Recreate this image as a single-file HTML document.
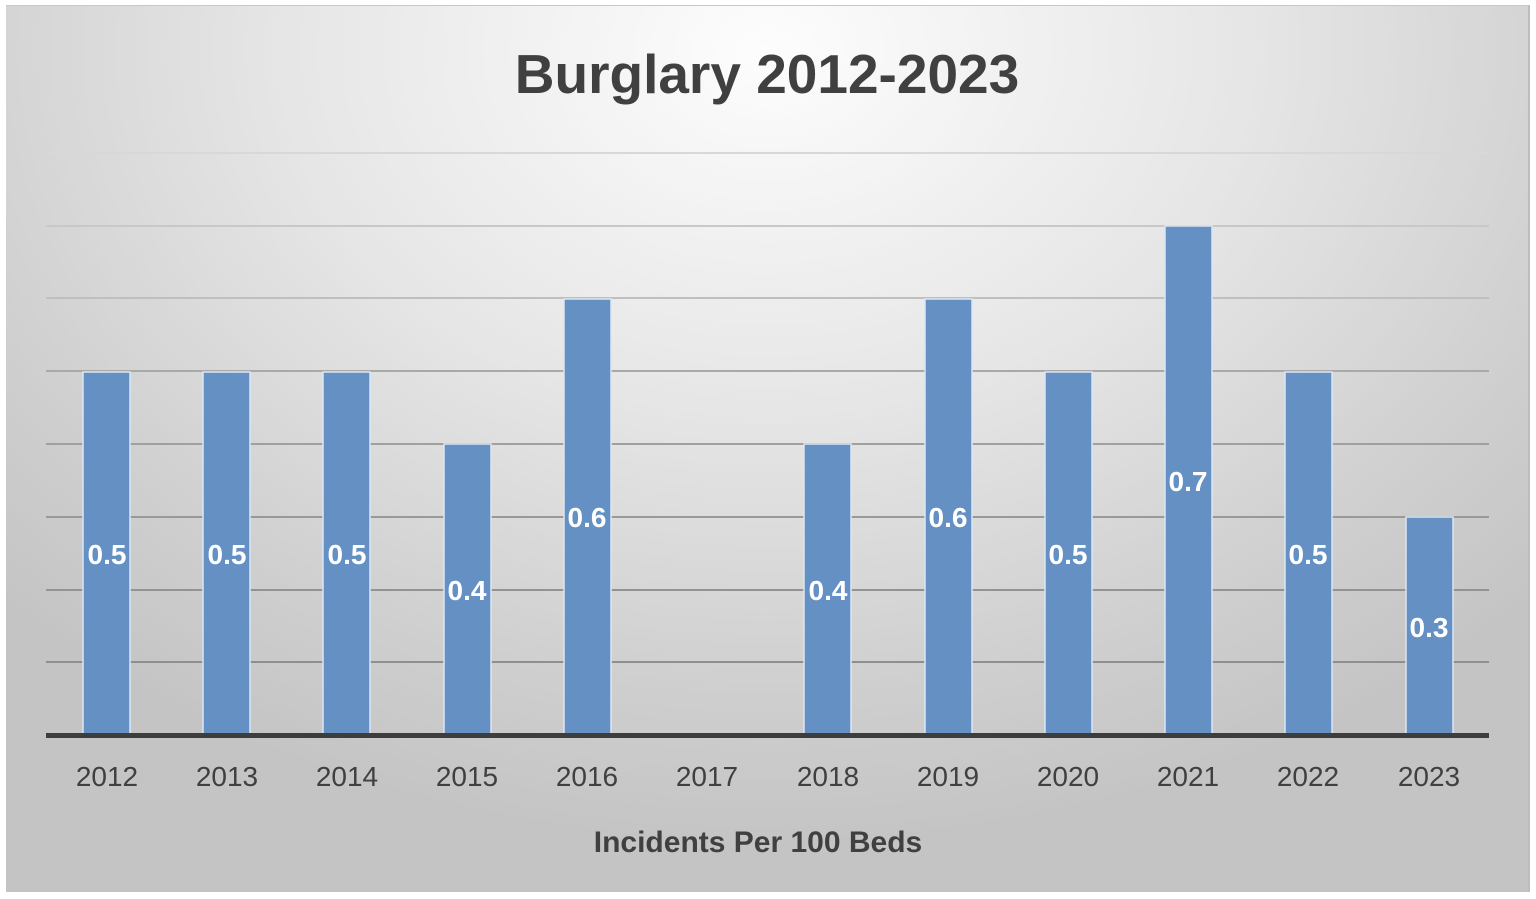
<!DOCTYPE html>
<html><head><style>
html,body{margin:0;padding:0;background:#fff;width:1536px;height:899px;overflow:hidden;}
.c{position:absolute;left:6px;top:5px;width:1522px;height:886px;
background:radial-gradient(ellipse 70% 90% at 50% 5%, #fdfdfd 0%, #e6e6e6 45%, #cfcfcf 80%, #c4c4c4 100%);
border-top:1px solid #c8c8c8;border-right:2px solid #bdbdbd;}
svg{position:absolute;left:0;top:0;}
text{font-family:"Liberation Sans",sans-serif;}
</style></head><body>
<div class="c"></div>
<svg width="1536" height="899" xmlns="http://www.w3.org/2000/svg">
<g stroke="#b9b9b9" stroke-width="2">
<line x1="46" x2="1489" y1="153" y2="153" stroke="#d8d8d8"/>
<line x1="46" x2="1489" y1="226" y2="226" stroke="#c8c8c8"/>
<line x1="46" x2="1489" y1="298" y2="298" stroke="#bfbfbf"/>
<line x1="46" x2="1489" y1="371" y2="371" stroke="#a9a9a9"/>
<line x1="46" x2="1489" y1="444" y2="444" stroke="#a0a0a0"/>
<line x1="46" x2="1489" y1="517" y2="517" stroke="#999"/>
<line x1="46" x2="1489" y1="590" y2="590" stroke="#939393"/>
<line x1="46" x2="1489" y1="662" y2="662" stroke="#8f8f8f"/>
</g>
<g fill="#6590c4" stroke="#dce6f2" stroke-width="1.5">
<rect x="83" y="372" width="47" height="362"/>
<rect x="203" y="372" width="47" height="362"/>
<rect x="323" y="372" width="47" height="362"/>
<rect x="444" y="444" width="47" height="290"/>
<rect x="564" y="299" width="47" height="435"/>
<rect x="804" y="444" width="47" height="290"/>
<rect x="925" y="299" width="47" height="435"/>
<rect x="1045" y="372" width="47" height="362"/>
<rect x="1165" y="226" width="47" height="508"/>
<rect x="1285" y="372" width="47" height="362"/>
<rect x="1406" y="517" width="47" height="217"/>
</g>
<line x1="46" x2="1489" y1="735.5" y2="735.5" stroke="#3d3d3d" stroke-width="5"/>
<g fill="#fff" font-size="28" font-weight="bold" text-anchor="middle">
<text x="107" y="564">0.5</text><text x="227" y="564">0.5</text><text x="347" y="564">0.5</text>
<text x="467" y="600">0.4</text><text x="587" y="527">0.6</text><text x="828" y="600">0.4</text>
<text x="948" y="527">0.6</text><text x="1068" y="564">0.5</text><text x="1188" y="491">0.7</text>
<text x="1308" y="564">0.5</text><text x="1429" y="637">0.3</text>
</g>
<g fill="#404040" font-size="28" text-anchor="middle">
<text x="107" y="786">2012</text><text x="227" y="786">2013</text><text x="347" y="786">2014</text>
<text x="467" y="786">2015</text><text x="587" y="786">2016</text><text x="707" y="786">2017</text>
<text x="828" y="786">2018</text><text x="948" y="786">2019</text><text x="1068" y="786">2020</text>
<text x="1188" y="786">2021</text><text x="1308" y="786">2022</text><text x="1429" y="786">2023</text>
</g>
<text x="758" y="852" fill="#404040" font-size="30" font-weight="bold" text-anchor="middle">Incidents Per 100 Beds</text>
<text x="767" y="93" fill="#404040" font-size="55" font-weight="bold" text-anchor="middle">Burglary 2012-2023</text>
</svg>
</body></html>
